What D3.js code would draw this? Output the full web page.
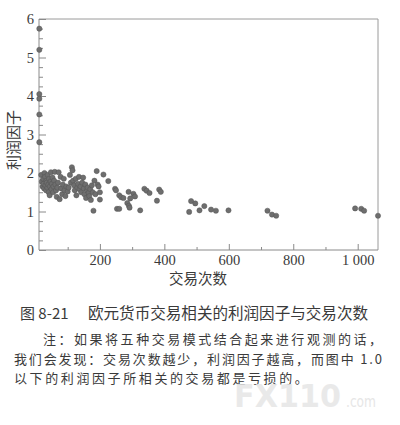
<!DOCTYPE html>
<html><head><meta charset="utf-8">
<script src="https://cdn.jsdelivr.net/npm/d3@7"></script>
<style>
html,body{margin:0;padding:0;background:#fff;}
svg{display:block;}
.tk text{font-family:"Liberation Serif","Tinos","Times New Roman",Times,serif !important;font-size:14.5px;}
</style></head>
<body>
<svg id="c" width="400" height="425"></svg>
<script>
// ---- data ----
const trades = [12,12,12,12,12,12,
 18,20,22,24,25,27,28,30,31,33,34,35,37,38,40,41,42,44,45,47,48,50,51,53,55,56,58,60,62,64,66,68,70,72,75,78,80,83,85,88,90,93,96,100,103,107,110,113,115,117,120,122,125,127,130,132,135,137,140,142,145,148,150,152,155,157,160,162,165,167,170,172,175,178,180,183,186,190,193,196,200,200,
 211,226,247,250,253,260,260,266,273,285,289,290,292,294,304,309,325,338,345,354,377,384,389,
 477,483,496,509,524,545,560,599,720,734,747,992,1011,1020,1063];
const profitFactor = [5.75,5.2,4.05,3.93,3.52,2.8,
 1.95,1.78,1.65,1.85,1.72,1.6,2.0,1.9,1.68,1.55,1.8,1.75,1.62,1.95,1.7,1.5,1.85,1.42,1.65,1.78,2.02,1.58,1.72,1.88,1.5,1.65,1.8,2.03,1.7,1.55,1.38,1.62,1.75,2.02,1.32,1.9,1.6,1.45,1.7,1.85,1.55,1.4,1.65,1.52,1.62,1.95,1.75,2.15,2.07,1.8,1.68,1.55,1.85,1.42,1.62,1.72,1.9,1.58,1.65,1.5,1.75,1.88,1.6,1.45,1.7,1.35,1.55,1.62,1.48,1.4,1.58,1.3,1.68,1.5,1.02,1.8,1.45,2.05,1.7,1.65,1.5,1.31,
 1.96,1.79,1.59,1.55,1.07,1.07,1.42,1.37,1.35,1.22,1.51,1.15,1.1,1.34,1.46,1.39,1.03,1.59,1.54,1.48,1.28,1.57,1.51,
 0.99,1.27,1.21,1.03,1.14,1.05,1.02,1.03,1.02,0.92,0.89,1.08,1.07,1.02,0.89];
const xTicks = [200,400,600,800,1000];
const xTickLabels = ["200","400","600","800","1 000"];
const yTicks = [0,1,2,3,4,5,6];
const xTitle = "交易次数";
const yTitle = "利润因子";
const captionNum = "图 8-21";
const captionText = "欧元货币交易相关的利润因子与交易次数";
const noteLines = ["注：如果将五种交易模式结合起来进行观测的话，","我们会发现：交易次数越少，利润因子越高，而图中 1.0","以下的利润因子所相关的交易都是亏损的。"];

// ---- chart ----
const svg = d3.select("#c");
const L=39,R=378,T=19,B=250;
const x = d3.scaleLinear().domain([11,1063]).range([L,R]);
const y = d3.scaleLinear().domain([0,6]).range([B,T]);
const axisCol = "#8a8a8a", textCol="#3a3a3a";
const serif = "Liberation Serif, Times New Roman, serif";
const cjk = "'Noto Sans CJK SC','Noto Sans CJK JP',sans-serif";

// frame top/right
svg.append("line").attr("x1",L).attr("x2",R).attr("y1",T).attr("y2",T).attr("stroke","#9a9a9a");
svg.append("line").attr("x1",R).attr("x2",R).attr("y1",T).attr("y2",B).attr("stroke","#9a9a9a");

// y axis minor
const yMinor = d3.range(0,6.001,0.25).filter(v=>Math.abs(v-Math.round(v))>1e-6);
const gyMin = svg.append("g").attr("transform",`translate(${L},0)`)
  .call(d3.axisLeft(y).tickValues(yMinor).tickSize(-4).tickFormat(""));
const gy = svg.append("g").attr("class","tk").attr("transform",`translate(${L},0)`)
  .call(d3.axisLeft(y).tickValues(yTicks).tickSize(-7).tickPadding(12).tickFormat(d3.format("d")));
// x axis
const xMinor = [100,300,500,700,900];
const gxMin = svg.append("g").attr("transform",`translate(0,${B})`)
  .call(d3.axisBottom(x).tickValues(xMinor).tickSize(-3).tickFormat(""));
const gx = svg.append("g").attr("class","tk").attr("transform",`translate(0,${B})`)
  .call(d3.axisBottom(x).tickValues(xTicks).tickSize(-6).tickPadding(12).tickFormat((d,i)=>xTickLabels[i]));
[gyMin,gy,gxMin,gx].forEach(g=>{
  g.attr("font-family",serif).attr("font-size",14.5);
  g.select(".domain").attr("stroke",axisCol);
  g.selectAll(".tick line").attr("stroke",axisCol);
  g.selectAll("text").attr("fill",textCol);
});
gy.select(".domain").attr("d",`M0,${B}V${T}`);
gx.select(".domain").attr("d",`M${L},0H${R}`);
gyMin.select(".domain").remove(); gxMin.select(".domain").remove();
gy.selectAll(".tick text").attr("x",-5);
gx.selectAll(".tick text").attr("y",5).attr("dy","0.71em");

// points
const pts = trades.map((t,i)=>({t,p:profitFactor[i]}));
svg.append("g").selectAll("circle").data(pts).join("circle")
  .attr("cx",d=>x(d.t)).attr("cy",d=>y(d.p)).attr("r",2.6)
  .attr("fill","#6e6e6e").attr("stroke","#555").attr("stroke-width",0.5);

// axis titles
svg.append("text").attr("x",198).attr("y",284).attr("text-anchor","middle")
  .style("font-family",cjk).style("font-size","14.5px").attr("fill",textCol).text(xTitle);
svg.append("text").attr("transform","translate(19,140) rotate(-90)").attr("text-anchor","middle")
  .style("font-family",cjk).style("font-size","15px").attr("fill",textCol).text(yTitle);

// caption
svg.append("text").attr("x",20).attr("y",319).style("font-family",cjk).style("font-size","15px")
  .attr("fill",textCol).text(captionNum);
svg.append("text").attr("x",88).attr("y",319).attr("textLength",280).attr("lengthAdjust","spacingAndGlyphs")
  .style("font-family",cjk).style("font-size","15.5px").attr("fill",textCol).text(captionText);
const noteX=[43,14,14], noteY=[344,364,383], noteW=[339,368,null];
noteLines.forEach((s,i)=>{
  const t=svg.append("text").attr("x",noteX[i]).attr("y",noteY[i])
    .style("font-family",cjk).style("font-size","13px").attr("fill",textCol).text(s);
  if(noteW[i]) t.attr("textLength",noteW[i]).attr("lengthAdjust","spacing");
  else t.style("letter-spacing","2.6px");
});

// watermark
svg.append("text").attr("x",234).attr("y",407).attr("textLength",107).attr("lengthAdjust","spacingAndGlyphs")
  .style("font-family","'DejaVu Sans',sans-serif")
  .style("font-size","32px").style("font-weight","bold").attr("fill","#e6e6e6").attr("fill-opacity",0.85).text("FX110");
svg.append("text").attr("x",346).attr("y",407).attr("textLength",30).attr("lengthAdjust","spacingAndGlyphs")
  .style("font-family","'DejaVu Sans',sans-serif")
  .style("font-size","15px").attr("fill","#e6e6e6").text(".com");
</script>
</body></html>
